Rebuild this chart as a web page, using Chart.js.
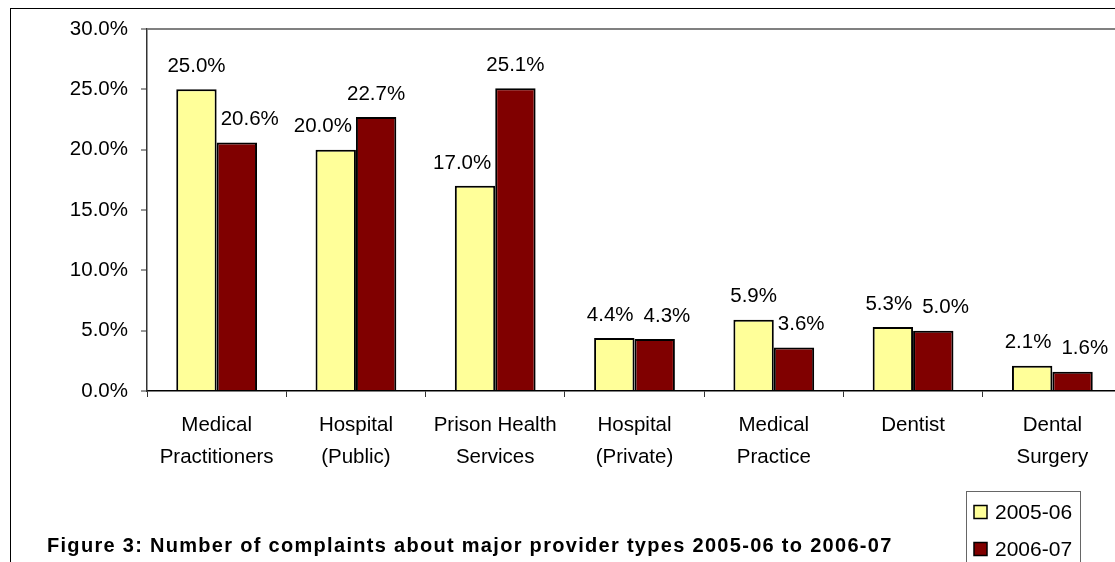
<!DOCTYPE html>
<html>
<head>
<meta charset="utf-8">
<script src="https://cdn.jsdelivr.net/npm/chart.js@4.4.0/dist/chart.umd.min.js"></script>
<style>
  html, body { margin: 0; padding: 0; background: #fff; overflow: hidden; width: 1115px; height: 562px; }
  #marco { position: absolute; left: 10px; top: 8px; width: 1200px; height: 700px; border: 1px solid #000; box-sizing: border-box; }
  #caja { position: absolute; left: 0; top: 0; width: 1130px; height: 570px; }
  #pie { position: absolute; left: 47px; top: 536px; font: bold 20px "Liberation Sans", Arial, sans-serif; letter-spacing: 1.3px; line-height: 19px; white-space: nowrap; color: #000; }
</style>
</head>
<body>
<div id="marco"></div>
<div id="caja"><canvas id="grafico"></canvas></div>
<div id="pie">Figure 3: Number of complaints about major provider types 2005-06 to 2006-07</div>
<script>
const categorias = [
  ["Medical", "Practitioners"],
  ["Hospital", "(Public)"],
  ["Prison Health", "Services"],
  ["Hospital", "(Private)"],
  ["Medical", "Practice"],
  ["Dentist"],
  ["Dental", "Surgery"]
];
const series = ["2005-06", "2006-07"];
const valores0506 = [25.0, 20.0, 17.0, 4.4, 5.9, 5.3, 2.1];
const valores0607 = [20.6, 22.7, 25.1, 4.3, 3.6, 5.0, 1.6];
const ticksY = [0, 5, 10, 15, 20, 25, 30];

const fuente = '"Liberation Sans", Arial, sans-serif';

//etiquetas de valor encima de cada barra
const etiquetas = {
  id: "etiquetas",
  afterDatasetsDraw(chart) {
    const ctx = chart.ctx;
    const m0 = chart.getDatasetMeta(0);
    const m1 = chart.getDatasetMeta(1);
    const alto = 20;
    ctx.save();
    ctx.font = "20.5px " + fuente;
    ctx.fillStyle = "#000";
    ctx.textAlign = "center";
    ctx.textBaseline = "middle";
    m0.data.forEach((b0, i) => {
      const b1 = m1.data[i];
      const t0 = valores0506[i].toFixed(1) + "%";
      const t1 = valores0607[i].toFixed(1) + "%";
      let x0 = b0.x;
      let x1 = b1.x;
      const y0 = b0.y - 23;
      const y1 = b1.y - 23;
      const w0 = ctx.measureText(t0).width;
      const w1 = ctx.measureText(t1).width;
      if (b0.y < y1 + alto / 2) {
        //la barra amarilla tapa la etiqueta roja: a la derecha
        x1 = Math.max(x1, b0.x + b0.width / 2 + 4 + w1 / 2);
      } else if (b1.y < y0 + alto / 2) {
        //la barra roja tapa la etiqueta amarilla: a la izquierda
        x0 = Math.min(x0, b1.x - b1.width / 2 - 4 - w0 / 2);
      } else {
        //si las etiquetas se pisan, las separamos
        const falta = (w0 + w1) / 2 + 10 - (x1 - x0);
        if (falta > 0 && Math.abs(y1 - y0) < alto) {
          x0 -= falta / 4;
          x1 += falta * 3 / 4;
        }
      }
      ctx.fillText(t0, x0, y0);
      ctx.fillText(t1, x1, y1);
    });
    ctx.restore();
  }
};

//leyenda con recuadro abajo a la derecha
const leyenda = {
  id: "leyenda",
  afterDraw(chart) {
    const ctx = chart.ctx;
    ctx.save();
    ctx.strokeStyle = "#666";
    ctx.lineWidth = 1;
    ctx.strokeRect(966.5, 491.5, 114, 120);
    ctx.font = "21px " + fuente;
    ctx.textBaseline = "middle";
    ctx.textAlign = "left";
    chart.data.datasets.forEach((d, i) => {
      const y = 512 + i * 37;
      ctx.fillStyle = d.backgroundColor;
      ctx.fillRect(974, y - 6.5, 13, 13);
      ctx.strokeStyle = "#000";
      ctx.lineWidth = 1.5;
      ctx.strokeRect(974, y - 6.5, 13, 13);
      ctx.fillStyle = "#000";
      ctx.fillText(d.label, 995, y + 1);
    });
    ctx.restore();
  }
};

new Chart(document.getElementById("grafico"), {
  type: "bar",
  data: {
    labels: categorias,
    datasets: [
      { label: series[0], data: valores0506, backgroundColor: "#FFFF99", borderColor: "#000", borderWidth: 2 },
      { label: series[1], data: valores0607, backgroundColor: "#800000", borderColor: "#000", borderWidth: 2 }
    ]
  },
  options: {
    responsive: true,
    maintainAspectRatio: false,
    animation: false,
    datasets: { bar: { categoryPercentage: 0.58, barPercentage: 1 } },
    layout: { padding: { left: 70, top: 29, right: 8, bottom: 97 } },
    plugins: { legend: { display: false }, tooltip: { enabled: false } },
    scales: {
      x: {
        grid: { display: true, drawOnChartArea: false, drawTicks: true, tickLength: 6, color: "#333", offset: true },
        border: { color: "#000", width: 1.5 },
        ticks: { color: "#000", padding: 12, maxRotation: 0, autoSkip: false, font: { family: fuente, size: 20.5, lineHeight: 32 / 20.5 } },
        afterFit: s => { s.height = 82; }
      },
      y: {
        min: 0,
        max: 30,
        afterBuildTicks: s => { s.ticks = ticksY.map(v => ({ value: v })); },
        grid: {
          color: c => (c.tick && c.tick.value === 30 ? "#808080" : "rgba(0,0,0,0)"),
          lineWidth: 2,
          tickColor: "#333",
          tickWidth: 1,
          tickLength: 6
        },
        border: { color: "#333", width: 1.5 },
        ticks: { color: "#000", padding: 13, font: { family: fuente, size: 20.5 }, callback: v => v.toFixed(1) + "%" },
        afterFit: s => { s.width = 77; }
      }
    }
  },
  plugins: [etiquetas, leyenda]
});
</script>
</body>
</html>
